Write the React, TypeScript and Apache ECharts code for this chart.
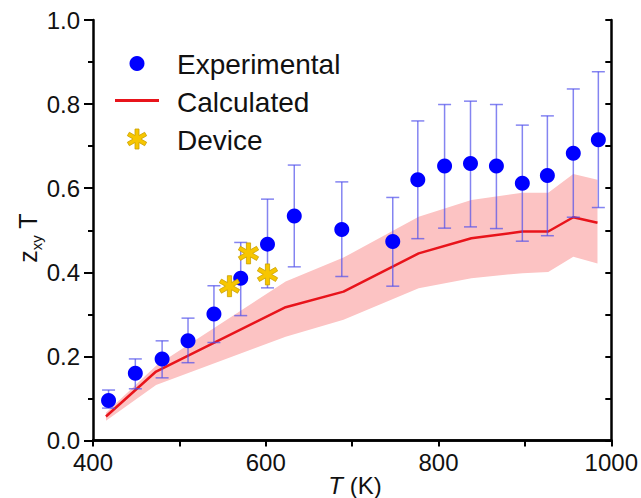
import React, { useEffect, useRef } from 'react';
import * as echarts from 'echarts';

// Experimental
const expT = [418, 449, 480, 510, 540, 571, 602, 633, 688, 747, 776, 807, 837, 867, 897, 926, 956, 985];
const expY = [0.095, 0.16, 0.194, 0.237, 0.301, 0.386, 0.467, 0.534, 0.502, 0.473, 0.62, 0.653, 0.659, 0.653, 0.612, 0.63, 0.683, 0.715];
const expLow = [0.077, 0.123, 0.149, 0.185, 0.233, 0.297, 0.363, 0.413, 0.39, 0.367, 0.48, 0.505, 0.508, 0.504, 0.474, 0.487, 0.531, 0.554];
const expHigh = [0.12, 0.194, 0.237, 0.291, 0.368, 0.471, 0.574, 0.655, 0.615, 0.578, 0.76, 0.799, 0.807, 0.799, 0.75, 0.772, 0.836, 0.877];
// Device
const devT = [558, 580, 602];
const devY = [0.367, 0.445, 0.395];
// Calculated
const calcT = [415, 473, 623, 690, 777, 838, 897, 927, 956, 984];
const calcY = [0.057, 0.164, 0.317, 0.354, 0.445, 0.481, 0.497, 0.497, 0.531, 0.518];
const calcLow = [0.047, 0.132, 0.247, 0.287, 0.362, 0.386, 0.398, 0.401, 0.437, 0.421];
const calcHigh = [0.066, 0.178, 0.378, 0.435, 0.532, 0.572, 0.589, 0.589, 0.634, 0.62];

const xTickLabels = ['400', '600', '800', '1000'];
const yTickLabels = ['0.0', '0.2', '0.4', '0.6', '0.8', '1.0'];

const FONT = 'Liberation Sans, Arial, sans-serif';
const GOLD = '#F7C600';
const GOLD_EDGE = '#C9A000';

function asteriskPts(cx: number, cy: number, L: number, w: number): number[][] {
  const pts: number[][] = [];
  for (let k = 0; k < 6; k++) {
    const th = (-90 + 60 * k) * Math.PI / 180;
    const ux = Math.cos(th), uy = Math.sin(th);
    const nx = -uy, ny = ux;
    pts.push([cx + L * ux - w * nx, cy + L * uy - w * ny]);
    pts.push([cx + L * ux + w * nx, cy + L * uy + w * ny]);
    const ti = th + Math.PI / 6;
    pts.push([cx + 2 * w * Math.cos(ti), cy + 2 * w * Math.sin(ti)]);
  }
  return pts;
}

function asteriskPath(): string {
  const pts = asteriskPts(12, 12, 10, 2);
  return 'path://M' + pts.map((p) => p[0].toFixed(2) + ' ' + p[1].toFixed(2)).join(' L') + ' Z';
}

export default function App() {
  const ref = useRef<HTMLDivElement>(null);
  useEffect(() => {
    if (!ref.current) return;
    const chart = echarts.init(ref.current, null, { renderer: 'svg' });
    const axisLine = { show: true, lineStyle: { color: '#000', width: 2.5 } };
    const option: any = {
      animation: false,
      backgroundColor: '#fff',
      grid: { left: 93, right: 27.5, top: 20, bottom: 57.5, containLabel: false },
      xAxis: [
        {
          type: 'value', min: 400, max: 1000, interval: 200,
          axisLine, splitLine: { show: false },
          axisTick: { show: true, inside: false, length: 5, lineStyle: { width: 2, color: '#000' } },
          minorTick: { show: true, splitNumber: 2, length: 5, lineStyle: { width: 2, color: '#000' } },
          axisLabel: {
            margin: 10, fontSize: 24, color: '#111', fontFamily: FONT,
            formatter: (v: number) => { const i = Math.round((v - 400) / 200); return xTickLabels[i] ?? ''; },
          },
        },
        {
          type: 'value', position: 'top', min: 400, max: 1000, interval: 100,
          axisLine, splitLine: { show: false }, axisLabel: { show: false },
          axisTick: { show: true, inside: true, length: 6, lineStyle: { width: 2, color: '#000' } },
        },
      ],
      yAxis: [
        {
          type: 'value', min: 0, max: 1, interval: 0.2,
          axisLine, splitLine: { show: false },
          axisTick: { show: true, inside: false, length: 9, lineStyle: { width: 2, color: '#000' } },
          minorTick: { show: true, splitNumber: 2, length: 5, lineStyle: { width: 2, color: '#000' } },
          axisLabel: {
            margin: 13, fontSize: 24, color: '#111', fontFamily: FONT,
            formatter: (v: number) => yTickLabels[Math.round(v / 0.2)] ?? '',
          },
        },
        {
          type: 'value', position: 'right', min: 0, max: 1, interval: 0.1,
          axisLine, splitLine: { show: false }, axisLabel: { show: false },
          axisTick: { show: true, inside: true, length: 6, lineStyle: { width: 2, color: '#000' } },
        },
      ],
      series: [
        {
          name: 'Calculated band',
          type: 'custom',
          xAxisIndex: 0, yAxisIndex: 0,
          silent: true,
          z: 1,
          data: calcT.map((t, i) => [t, calcY[i]]),
          renderItem: (params: any, api: any) => {
            if (params.dataIndex !== 0) return null;
            const pts: number[][] = [];
            for (let i = 0; i < calcT.length; i++) pts.push(api.coord([calcT[i], calcHigh[i]]));
            for (let i = calcT.length - 1; i >= 0; i--) pts.push(api.coord([calcT[i], calcLow[i]]));
            return { type: 'polygon', shape: { points: pts }, style: { fill: '#FCC3C3', stroke: 'none' } };
          },
        },
        {
          name: 'Calculated',
          type: 'line',
          z: 2,
          data: calcT.map((t, i) => [t, calcY[i]]),
          symbol: 'none',
          lineStyle: { color: '#E8141B', width: 2.5 },
        },
        {
          name: 'Error',
          type: 'custom',
          z: 3,
          silent: true,
          data: expT.map((t, i) => [t, expLow[i], expHigh[i]]),
          renderItem: (params: any, api: any) => {
            const x = api.value(0);
            const lo = api.coord([x, api.value(1)]);
            const hi = api.coord([x, api.value(2)]);
            const hw = 6.5;
            const st = { stroke: 'rgba(80,80,235,0.7)', lineWidth: 1.5 };
            return {
              type: 'group',
              children: [
                { type: 'line', shape: { x1: lo[0], y1: lo[1], x2: hi[0], y2: hi[1] }, style: st },
                { type: 'line', shape: { x1: lo[0] - hw, y1: lo[1], x2: lo[0] + hw, y2: lo[1] }, style: st },
                { type: 'line', shape: { x1: hi[0] - hw, y1: hi[1], x2: hi[0] + hw, y2: hi[1] }, style: st },
              ],
            };
          },
        },
        {
          name: 'Experimental',
          type: 'scatter',
          z: 4,
          data: expT.map((t, i) => [t, expY[i]]),
          symbol: 'circle',
          symbolSize: 15,
          itemStyle: { color: '#0000FF', opacity: 1 },
        },
        {
          name: 'Device',
          type: 'scatter',
          z: 5,
          data: devT.map((t, i) => [t, devY[i]]),
          symbol: asteriskPath(),
          symbolKeepAspect: true,
          symbolSize: 21,
          itemStyle: { color: GOLD, borderColor: GOLD_EDGE, borderWidth: 0.8, opacity: 1 },
        },
      ],
      graphic: [
        { type: 'circle', shape: { cx: 137, cy: 63.5, r: 7.5 }, style: { fill: '#0000FF' }, z: 10 },
        { type: 'line', shape: { x1: 115, y1: 100.5, x2: 159, y2: 100.5 }, style: { stroke: '#E8141B', lineWidth: 3 }, z: 10 },
        { type: 'polygon', shape: { points: asteriskPts(137, 139, 10, 2) }, style: { fill: GOLD, stroke: GOLD_EDGE, lineWidth: 0.8 }, z: 10 },
        { type: 'text', x: 177, y: 64, style: { text: 'Experimental', font: '28px ' + FONT, fill: '#111', textVerticalAlign: 'middle' }, z: 10 },
        { type: 'text', x: 177, y: 102, style: { text: 'Calculated', font: '28px ' + FONT, fill: '#111', textVerticalAlign: 'middle' }, z: 10 },
        { type: 'text', x: 177, y: 140, style: { text: 'Device', font: '28px ' + FONT, fill: '#111', textVerticalAlign: 'middle' }, z: 10 },
        {
          type: 'text', x: 25, y: 238, rotation: Math.PI / 2, z: 10,
          style: {
            text: '{z|z}{s|xy}{t| T}',
            textAlign: 'center', textVerticalAlign: 'middle',
            rich: {
              z: { fontSize: 25, fontFamily: FONT, fill: '#111', lineHeight: 30, verticalAlign: 'bottom' },
              s: { fontSize: 15, fontFamily: FONT, fill: '#111', lineHeight: 30, verticalAlign: 'bottom', padding: [0, 0, -4, 0] },
              t: { fontSize: 25, fontFamily: FONT, fill: '#111', lineHeight: 30, verticalAlign: 'bottom' },
            },
          },
        },
        {
          type: 'text', x: 355, y: 485, z: 10,
          style: {
            text: '{i|T}{n| (K)}',
            textAlign: 'center', textVerticalAlign: 'middle',
            rich: {
              i: { fontSize: 24, fontFamily: FONT, fontStyle: 'italic', fill: '#111', lineHeight: 24 },
              n: { fontSize: 24, fontFamily: FONT, fill: '#111', lineHeight: 24 },
            },
          },
        },
      ],
    };
    chart.setOption(option);
    return () => chart.dispose();
  }, []);
  return (
    <div
      ref={ref}
      style={{ position: 'fixed', left: 0, top: 0, width: 641, height: 498, background: '#fff' }}
    />
  );
}
